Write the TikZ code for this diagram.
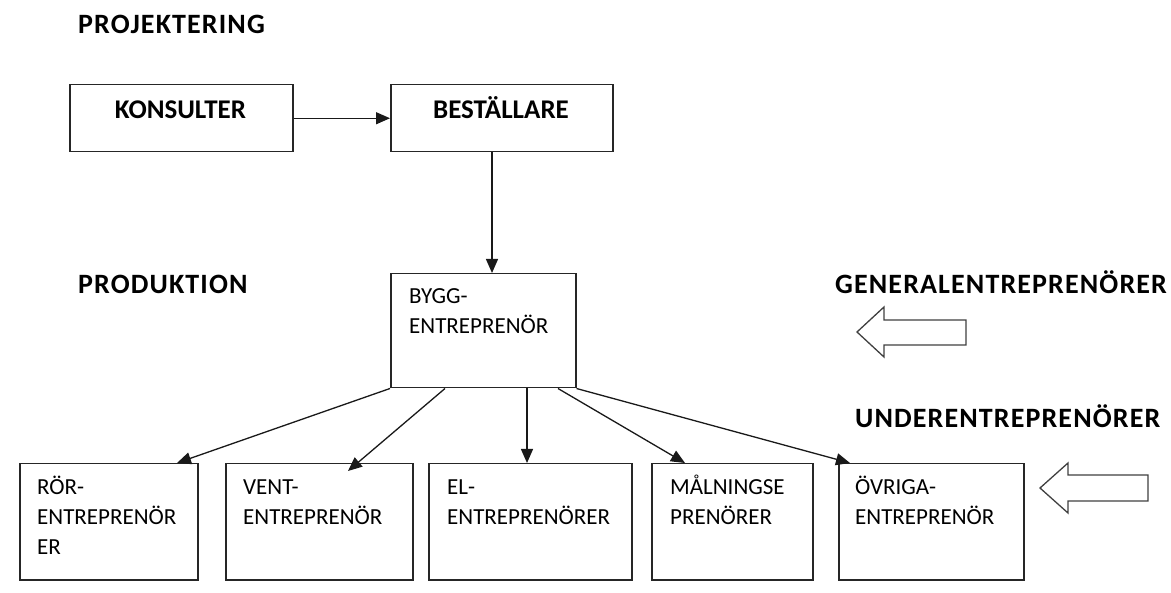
\documentclass[tikz,border=0pt]{standalone}
\usepackage{fontspec}
\setmainfont{Carlito}
\newfontfamily\headfont[LetterSpace=4]{Carlito}
\usetikzlibrary{arrows.meta}
\begin{document}
\begin{tikzpicture}[x=1pt,y=-1pt,
  box/.style={draw=black!85, line width=1.5pt, rectangle, inner sep=0pt, anchor=north west},
  heading/.style={font=\headfont\fontsize{28}{34}\selectfont\bfseries, anchor=base west, inner sep=0pt},
  boxtitle/.style={font=\fontsize{27}{30}\selectfont\bfseries, anchor=base, inner sep=0pt},
  boxtext/.style={font=\fontsize{23}{30}\selectfont, anchor=base west, inner sep=0pt},
  link/.style={draw=black!90, line width=1.3pt, -{Triangle[length=14pt,width=12pt]}},
  hollow/.style={draw=black!75, line width=1.3pt, fill=white, line join=miter}]
\useasboundingbox (0,0) rectangle (1171,593);

% headings
\node[heading] (hproj) at (78,33.3) {PROJEKTERING};
\node[heading] (hprod) at (78,293.3) {PRODUKTION};
\node[heading] (hgen)  at (835,293.3) {GENERALENTREPRENÖRER};
\node[heading] (hund)  at (855,427.5) {UNDERENTREPRENÖRER};

% design phase
\node[box, minimum width=223pt, minimum height=67pt] (kons) at (69,84) {};
\node[boxtitle] (konst) at (180.5,119) {KONSULTER};
\node[box, minimum width=222pt, minimum height=67pt] (best) at (390,84) {};
\node[boxtitle] (bestt) at (501,119) {BESTÄLLARE};

% main contractor
\node[box, minimum width=185pt, minimum height=114pt] (bygg) at (390,273) {};
\node[boxtext] (byggt) at (409,303.5) {\parbox[t]{250pt}{BYGG-\\ENTREPRENÖR}};

% subcontractors
\node[box, minimum width=178pt, minimum height=116pt] (ror)  at (19,463) {};
\node[box, minimum width=187pt, minimum height=116pt] (vent) at (225,463) {};
\node[box, minimum width=203pt, minimum height=116pt] (el)   at (428,463) {};
\node[box, minimum width=161pt, minimum height=116pt] (mal)  at (651,463) {};
\node[box, minimum width=185pt, minimum height=116pt] (ovr)  at (838,463) {};

\node[boxtext] (rort)  at (37,494.5)  {\parbox[t]{250pt}{RÖR-\\ENTREPRENÖR\\ER}};
\node[boxtext] (ventt) at (243,494.5) {\parbox[t]{250pt}{VENT-\\ENTREPRENÖR}};
\node[boxtext] (elt)   at (447,494.5) {\parbox[t]{250pt}{EL-\\ENTREPRENÖRER}};
\node[boxtext] (malt)  at (670,494.5) {\parbox[t]{250pt}{MÅLNINGSE\\PRENÖRER}};
\node[boxtext] (ovrt)  at (855,494.5) {\parbox[t]{250pt}{ÖVRIGA-\\ENTREPRENÖR}};

% connectors
\draw[link] (kons.east) -- (best.west);
\draw[link] ([xshift=102pt]best.south west) -- ([xshift=102pt]bygg.north west);
\draw[link] (bygg.south west) -- ([xshift=158pt]ror.north west);
\draw[link] ([xshift=55pt]bygg.south west) -- ([xshift=123pt,yshift=-8pt]vent.north west);
\draw[link] ([xshift=137pt]bygg.south west) -- ([xshift=99pt]el.north west);
\draw[link] ([xshift=168pt]bygg.south west) -- ([xshift=34pt]mal.north west);
\draw[link] (bygg.south east) -- ([xshift=12pt]ovr.north west);

% hollow direction arrows
\draw[hollow] (857,332) -- (884,307) -- (884,320) -- (966,320) -- (966,345)
  -- (884,345) -- (884,357) -- cycle;
\draw[hollow] (1040,488) -- (1068,463) -- (1068,475) -- (1148,475) -- (1148,501)
  -- (1068,501) -- (1068,513) -- cycle;
\end{tikzpicture}
\end{document}
